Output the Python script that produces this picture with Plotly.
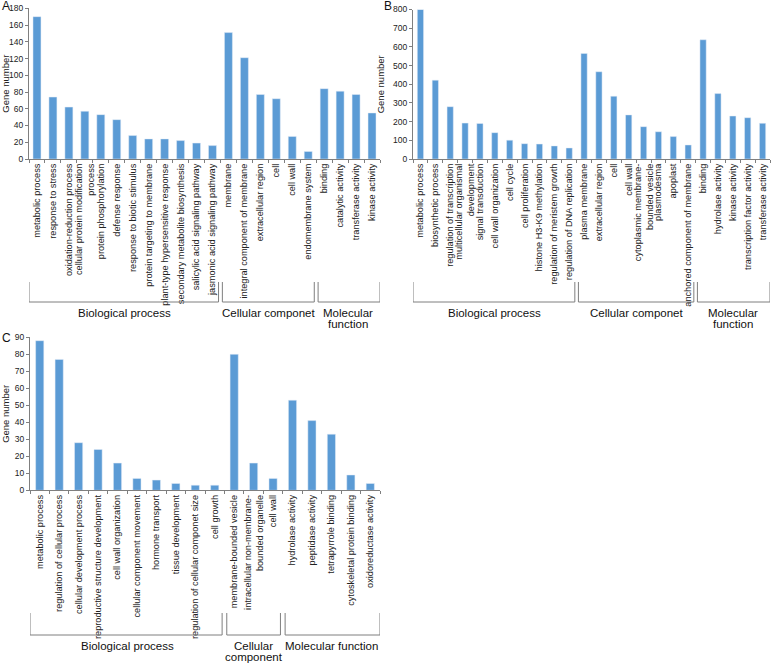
import plotly.graph_objects as go

# panel A
cats_a = ["metabolic process", "response to stress", "oxidation-reduction process",
          "cellular protein modification<br>process", "protein phosphorylation", "defense response",
          "response to biotic stimulus", "protein targeting to membrane",
          "plant-type hypersensitive response", "secondary metabolite biosynthesis",
          "salicylic acid signaling pathway", "jasmonic acid signaling pathway",
          "membrane", "integral component of membrane", "extracellular region", "cell",
          "cell wall", "endomembrane system",
          "binding", "catalytic activity", "transferase activity", "kinase activity"]
vals_a = [170, 74, 62, 57, 53, 47, 28, 24, 24, 22, 19, 16,
          151, 121, 77, 72, 27, 9,
          84, 81, 77, 55]
groups_a = ["Biological process", "Cellular componet", "Molecular<br>function"]
sizes_a = [12, 6, 4]

# panel B
cats_b = ["metabolic process", "biosynthetic process", "regulation of transcription",
          "multicellular organismal<br>development", "signal transduction", "cell wall organization",
          "cell cycle", "cell proliferation", "histone H3-K9 methylation",
          "regulation of meristem growth", "regulation of DNA replication",
          "plasma membrane", "extracellular region", "cell", "cell wall",
          "cytoplasmic membrane-<br>bounded vesicle", "plasmodesma", "apoplast",
          "anchored component of membrane",
          "binding", "hydrolase activity", "kinase activity", "transcription factor activity",
          "transferase activity"]
vals_b = [800, 422, 280, 192, 190, 141, 101, 82, 80, 70, 59,
          565, 467, 336, 236, 173, 146, 120, 75,
          638, 350, 230, 221, 191]
groups_b = ["Biological process", "Cellular componet", "Molecular<br>function"]
sizes_b = [11, 8, 5]

# panel C
cats_c = ["metabolic process", "regulation of cellular process", "cellular development process",
          "reproductive structure development", "cell wall organization",
          "cellular component movement", "hormone transport", "tissue development",
          "regulation of cellular componet size", "cell growth",
          "membrane-bounded vesicle", "intracellular non-membrane-<br>bounded organelle", "cell wall",
          "hydrolase activity", "peptidase activity", "tetrapyrrole binding",
          "cytoskeletal protein binding", "oxidoreductase activity"]
vals_c = [88, 77, 28, 24, 16, 7, 6, 4, 3, 3,
          80, 16, 7,
          53, 41, 33, 9, 4]
groups_c = ["Biological process", "Cellular<br>component", "Molecular function"]
sizes_c = [10, 3, 5]

W, H = 778, 663
BLUE = "#5b9bd5"
GREY = "#7f7f7f"
FONT = "Arial, Liberation Sans, sans-serif"

fig = go.Figure()


def py(px):
    return 1 - px / H


def panel(k, cats, vals, groups, sizes, xdom, ydom, ymax, dtick, bw, br, gl, letter, lpos):
    xa = "xaxis" if k == 1 else "xaxis%d" % k
    ya = "yaxis" if k == 1 else "yaxis%d" % k
    xr = "x" if k == 1 else "x%d" % k
    yr = "y" if k == 1 else "y%d" % k
    fig.add_trace(go.Bar(x=cats, y=vals, marker_color=BLUE, width=bw,
                         xaxis=xr, yaxis=yr, showlegend=False))
    fig.layout[xa] = dict(domain=[xdom[0] / W, xdom[1] / W], anchor=yr, type="category",
                          range=[-0.5, len(cats) - 0.5], showline=True, linecolor=GREY,
                          linewidth=1, ticks="outside", tickson="boundaries", ticklen=3,
                          tickcolor=GREY, tickangle=-90, showgrid=False, automargin=False,
                          tickfont=dict(size=9.2, color="#222222", family=FONT))
    fig.layout[ya] = dict(domain=[py(ydom[0]), py(ydom[1])], anchor=xr, range=[0, ymax],
                          dtick=dtick, showline=True, linecolor=GREY, linewidth=1,
                          ticks="outside", ticklen=3, tickcolor=GREY, showgrid=False,
                          zeroline=False, automargin=False,
                          tickfont=dict(size=8.5, color="#222222", family=FONT),
                          title=dict(text="Gene number", standoff=6,
                                     font=dict(size=9.5, color="#222222", family=FONT)))
    # group brackets
    start = 0
    for g, n in zip(groups, sizes):
        x0 = start - 0.5 + (0.12 if start > 0 else 0)
        x1 = start + n - 0.5 - (0.12 if start + n < len(cats) else 0)
        for xx in (x0, x1):
            fig.add_shape(type="line", xref=xr, yref="paper", x0=xx, x1=xx,
                          y0=py(br[0]), y1=py(br[1]), line=dict(color=GREY, width=1))
        fig.add_shape(type="line", xref=xr, yref="paper", x0=x0, x1=x1,
                      y0=py(br[1]), y1=py(br[1]), line=dict(color=GREY, width=1))
        for i, line in enumerate(g.split("<br>")):
            fig.add_annotation(text=line, xref=xr, yref="paper", x=start + n / 2 - 0.5,
                               y=py(gl + i * 11), yanchor="middle", showarrow=False,
                               font=dict(size=11.5, color="#111111", family=FONT))
        start += n
    fig.add_annotation(text=letter, xref="paper", yref="paper", x=lpos[0] / W, y=py(lpos[1]),
                       xanchor="left", yanchor="middle", showarrow=False,
                       font=dict(size=12, color="#111111", family=FONT))


panel(1, cats_a, vals_a, groups_a, sizes_a, (29, 380), (159, 8.3), 180, 20, 0.5,
      (282, 302), 313, "A", (0, 6))
panel(2, cats_b, vals_b, groups_b, sizes_b, (413, 770), (159, 9.5), 800, 100, 0.42,
      (282, 302), 313, "B", (382, 6))
panel(3, cats_c, vals_c, groups_c, sizes_c, (30, 380), (490.3, 337.3), 90, 10, 0.42,
      (613, 635), 646, "C", (0, 338))

fig.update_layout(width=W, height=H, margin=dict(l=0, r=0, t=0, b=0),
                  plot_bgcolor="white", paper_bgcolor="white",
                  font=dict(family=FONT), bargap=0.5)
fig.write_html("out.html", config={"displayModeBar": False},
               post_script="document.body.style.margin='0';")
